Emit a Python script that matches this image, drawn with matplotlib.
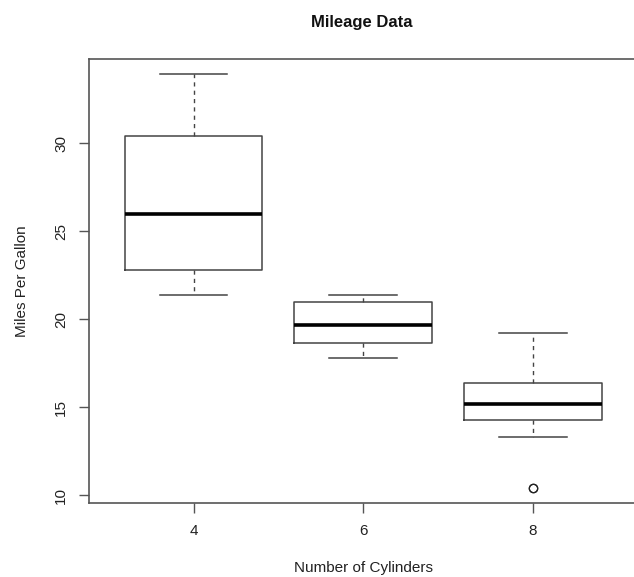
import matplotlib
matplotlib.use('Agg')
import matplotlib.pyplot as plt

# mileage by cylinder count (R-style five-number summaries)
cyl = ['4', '6', '8']
whislo = [21.4, 17.8, 13.3]
q1 = [22.8, 18.65, 14.3]
med = [26.0, 19.7, 15.2]
q3 = [30.4, 21.0, 16.4]
whishi = [33.9, 21.4, 19.2]
fliers = [[], [], [10.4, 10.4]]

plt.rcParams['font.family'] = ['Liberation Sans', 'DejaVu Sans']

stats = []
for i in range(len(cyl)):
    stats.append(dict(label=cyl[i], whislo=whislo[i], q1=q1[i], med=med[i],
                      q3=q3[i], whishi=whishi[i], fliers=fliers[i]))

fig = plt.figure(figsize=(6.34, 5.77), dpi=100)
ax = fig.add_axes([89/634, (577-503)/577, (638-89)/634, (503-59)/577])

edge = '#444444'
ax.bxp(stats, positions=[1, 2, 3], widths=0.81,
       boxprops=dict(color=edge, linewidth=1.1),
       medianprops=dict(color='black', linewidth=2.6),
       whiskerprops=dict(color=edge, linewidth=1.0, linestyle=(0, (3, 3))),
       capprops=dict(color=edge, linewidth=1.1),
       flierprops=dict(marker='o', markerfacecolor='none', markeredgecolor='#222222',
                       markersize=6, markeredgewidth=0.9),
       capwidths=0.4)

ax.set_xlim(0.384, 3.62)
ax.set_ylim(9.57, 34.77)
ax.set_yticks([10, 15, 20, 25, 30])
ax.set_xticks([1, 2, 3])
ax.set_xticklabels(cyl)

for s in ax.spines.values():
    s.set_color('#555555')
    s.set_linewidth(1.2)
ax.tick_params(colors='#555555', labelcolor='#222222', labelsize=11,
               length=7, width=1.0, pad=8)
ax.tick_params(axis='y', pad=8)
for lab in ax.get_yticklabels():
    lab.set_rotation(90)
    lab.set_va('center')

ax.set_xlabel('Number of Cylinders', fontsize=11, color='#222222', labelpad=17)
ax.set_ylabel('Miles Per Gallon', fontsize=11, color='#222222', labelpad=18)
fig.text(362/634, 1 - 22/577, 'Mileage Data', ha='center', va='center',
         fontsize=12, fontweight='bold', color='#111111')

fig.savefig('out.png', dpi=100)
